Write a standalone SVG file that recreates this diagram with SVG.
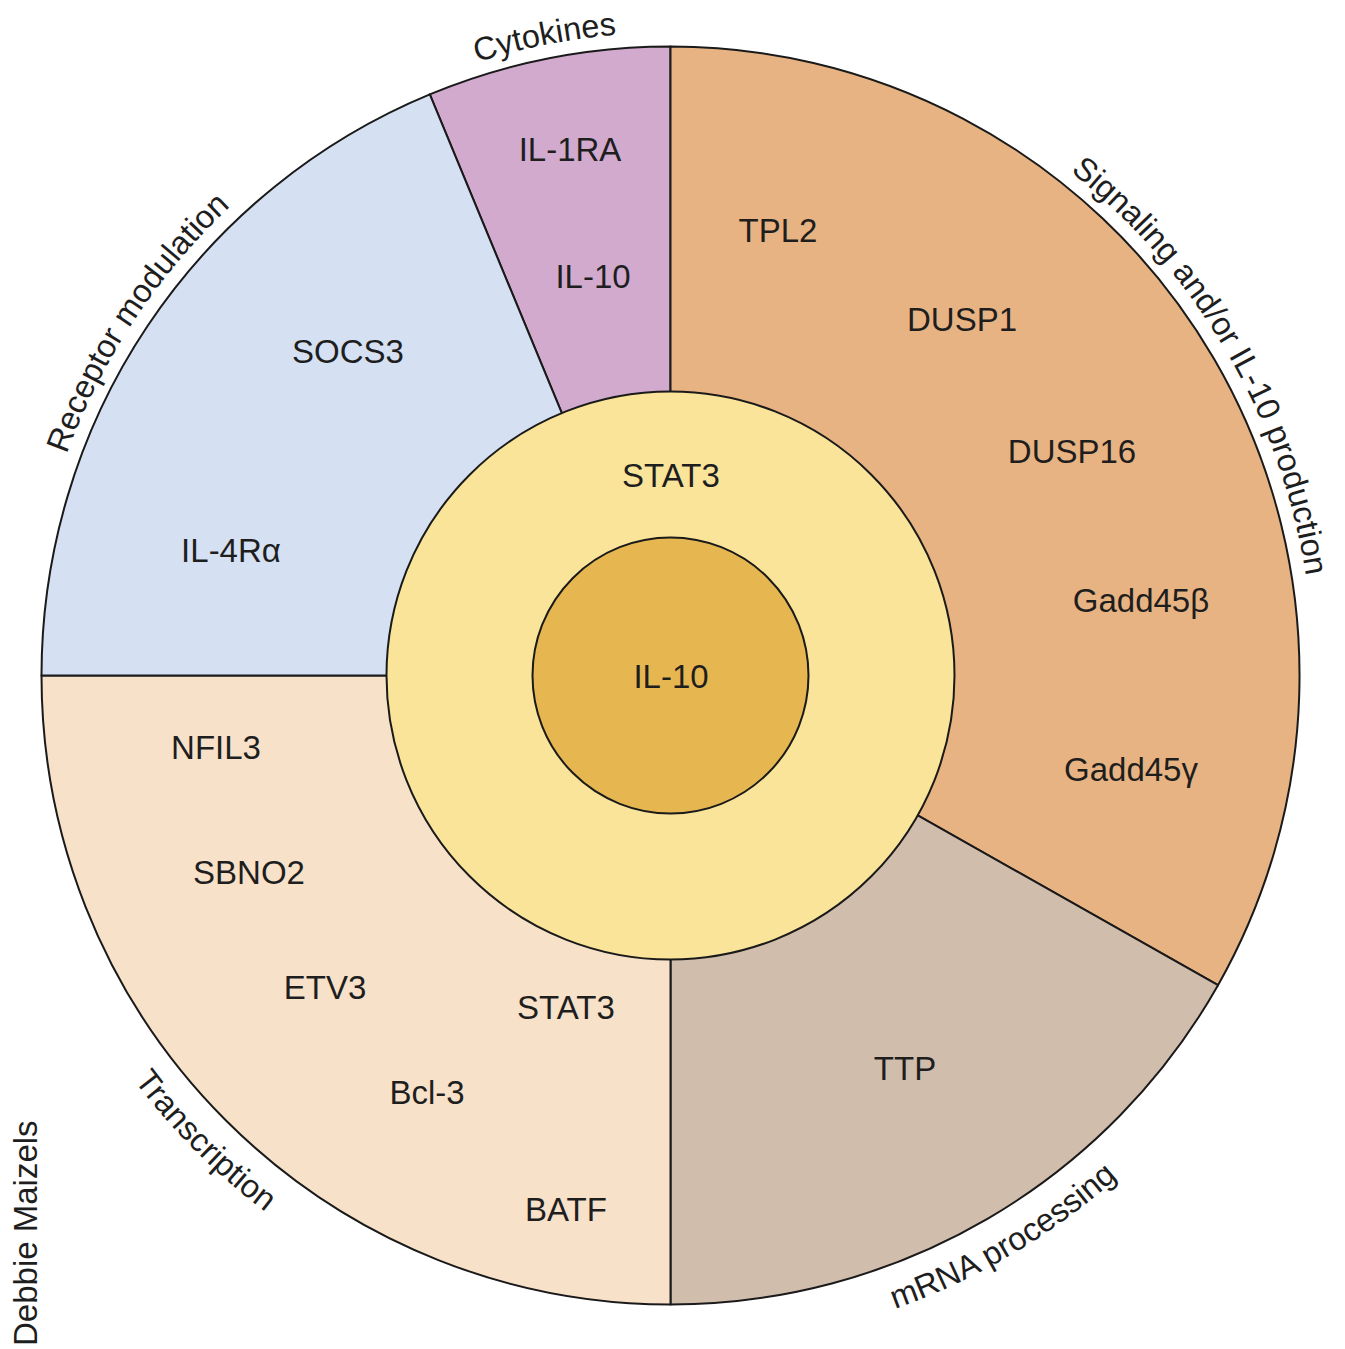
<svg xmlns="http://www.w3.org/2000/svg" xmlns:xlink="http://www.w3.org/1999/xlink" width="1345" height="1349" viewBox="0 0 1345 1349">
<style>
.sec{stroke:#1a1a1a;stroke-width:2;stroke-linejoin:round}
.lbl{font-family:"Liberation Sans",Arial,sans-serif;font-size:33px;fill:#1e1e1e;text-anchor:middle}
.arc{font-family:"Liberation Sans",Arial,sans-serif;font-size:32.5px;fill:#1e1e1e;text-anchor:middle}
</style>
<defs>
<path id="cw" d="M 670.5,32.5 A 643 643 0 1 1 670.5,1318.5 A 643 643 0 1 1 670.5,32.5"/>
<path id="ccw" d="M 670.5,3.5 A 672 672 0 1 0 670.5,1347.5 A 672 672 0 1 0 670.5,3.5"/>
</defs>
<rect width="1345" height="1349" fill="#ffffff"/>
<g id="cytokines">
<path class="sec" fill="#D2AACE" d="M670.5,675.5 L429.8,94.4 A629 629 0 0 1 670.5,46.5 Z"/>
<text class="lbl" x="570" y="161">IL-1RA</text>
<text class="lbl" x="593" y="288">IL-10</text>
<text class="arc"><textPath href="#cw" xlink:href="#cw" startOffset="96.9%">Cytokines</textPath></text>
</g>
<g id="signaling">
<path class="sec" fill="#E8B382" d="M670.5,675.5 L670.5,46.5 A629 629 0 0 1 1218.0,985.2 Z"/>
<text class="lbl" x="778" y="242">TPL2</text>
<text class="lbl" x="962" y="331">DUSP1</text>
<text class="lbl" x="1072" y="463">DUSP16</text>
<text class="lbl" x="1141" y="612">Gadd45β</text>
<text class="lbl" x="1131" y="781">Gadd45γ</text>
<text class="arc"><textPath href="#cw" xlink:href="#cw" startOffset="16.6%">Signaling and/or IL-10 production</textPath></text>
</g>
<g id="mrna">
<path class="sec" fill="#D1BDAC" d="M670.5,675.5 L1218.0,985.2 A629 629 0 0 1 670.5,1304.5 Z"/>
<text class="lbl" x="905" y="1080">TTP</text>
<text class="arc"><textPath href="#ccw" xlink:href="#ccw" startOffset="58.5%">mRNA processing</textPath></text>
</g>
<g id="transcription">
<path class="sec" fill="#F7E1C9" d="M670.5,675.5 L670.5,1304.5 A629 629 0 0 1 41.5,675.5 Z"/>
<text class="lbl" x="216" y="759">NFIL3</text>
<text class="lbl" x="249" y="884">SBNO2</text>
<text class="lbl" x="325" y="999">ETV3</text>
<text class="lbl" x="566" y="1019">STAT3</text>
<text class="lbl" x="427" y="1104">Bcl-3</text>
<text class="lbl" x="566" y="1221">BATF</text>
<text class="arc"><textPath href="#ccw" xlink:href="#ccw" startOffset="37.5%">Transcription</textPath></text>
</g>
<g id="receptor">
<path class="sec" fill="#D5E1F2" d="M670.5,675.5 L41.5,675.5 A629 629 0 0 1 429.8,94.4 Z"/>
<text class="lbl" x="348" y="363">SOCS3</text>
<text class="lbl" x="231" y="562">IL-4Rα</text>
<text class="arc"><textPath href="#cw" xlink:href="#cw" startOffset="84.3%">Receptor modulation</textPath></text>
</g>
<g id="stat3-ring">
<circle class="sec" cx="670.5" cy="675.5" r="284" fill="#F9E499"/>
<text class="lbl" x="671" y="487">STAT3</text>
</g>
<g id="il10-core">
<circle class="sec" cx="670.5" cy="675.5" r="138" fill="#E6B751"/>
<text class="lbl" x="671" y="688">IL-10</text>
</g>
<g id="credit">
<text class="lbl" style="text-anchor:start;font-size:33px" transform="translate(37,1346) rotate(-90)">Debbie Maizels</text>
</g>
</svg>
